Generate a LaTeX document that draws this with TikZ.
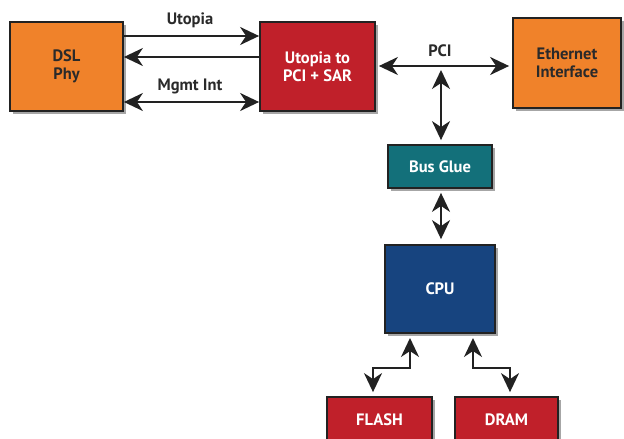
\documentclass[tikz,border=0pt]{standalone}
\usepackage{fontspec}
\setmainfont{PT Sans}
\usetikzlibrary{arrows.meta,shadows}
\definecolor{boxorange}{HTML}{F0822A}
\definecolor{boxred}{HTML}{C0202A}
\definecolor{boxteal}{HTML}{13707A}
\definecolor{boxblue}{HTML}{17447F}
\definecolor{edge}{HTML}{222222}
\definecolor{txt}{HTML}{2A2A2A}
\begin{document}
\begin{tikzpicture}[x=1pt,y=-1pt,
  blk/.style={draw=edge,line width=1.8pt,inner sep=0pt,align=center,
    font=\bfseries\fontsize{16.5}{18}\selectfont,
    drop shadow={shadow xshift=3pt,shadow yshift=-3pt,fill=black!35,opacity=1}},
  lab/.style={font=\bfseries\fontsize{16.5}{18}\selectfont,text=txt,inner sep=0pt},
  arr/.style={draw=edge,line width=2pt,-{Stealth[length=19pt,width=18pt,inset=6pt]}},
  darr/.style={draw=edge,line width=2pt,{Stealth[length=19pt,width=18pt,inset=6pt]}-{Stealth[length=19pt,width=18pt,inset=6pt]}}]
\useasboundingbox[fill=white] (0,0) rectangle (624,439);
\node[blk,fill=boxorange,text=txt,minimum width=113pt,minimum height=89pt] (dsl) at (66.5,66.5) {DSL\\Phy};
\node[blk,fill=boxred,text=white,minimum width=115pt,minimum height=89pt] (ut) at (317.5,66.5) {Utopia to\\PCI + SAR};
\node[blk,fill=boxorange,text=txt,minimum width=108pt,minimum height=90pt] (eth) at (567,63) {Ethernet\\Interface};
\node[blk,fill=boxteal,text=white,minimum width=104pt,minimum height=43pt] (bg) at (440,166.5) {Bus Glue};
\node[blk,fill=boxblue,text=white,minimum width=110pt,minimum height=88pt] (cpu) at (440,289) {CPU};
\node[blk,fill=boxred,text=white,minimum width=105pt,minimum height=46pt] (flash) at (379.5,420) {FLASH};
\node[blk,fill=boxred,text=white,minimum width=103pt,minimum height=46pt] (dram) at (506.5,420) {DRAM};
% DSL <-> Utopia
\coordinate (a1) at (dsl.east |- 0,36);
\coordinate (a2) at (dsl.east |- 0,57);
\coordinate (a3) at (dsl.east |- 0,102);
\draw[arr] (a1) -- (a1 -| ut.west);
\draw[arr] (a2 -| ut.west) -- (a2);
\draw[darr] (a3) -- (a3 -| ut.west);
\node[lab] (lut) at (190,20) {Utopia};
\node[lab] (lmg) at (190,86) {Mgmt Int};
% PCI bus
\coordinate (p1) at (ut.east |- 0,66);
\draw[darr] ([xshift=3pt]p1) -- ([xshift=-3pt]p1 -| eth.west);
\node[lab] (lpci) at (440,51) {PCI};
\coordinate (pj) at (441,70);
\draw[darr] (pj) -- ([yshift=4pt]pj |- bg.north);
\draw[darr] ([yshift=-4pt]pj |- bg.south) -- ([yshift=5pt]pj |- cpu.north);
% CPU to memories
\coordinate (f1) at (410,338);
\coordinate (d1) at (473,338);
\draw[darr] (f1) -- (410,368) -| ([yshift=4pt]373,0 |- flash.north);
\draw[darr] (d1) -- (473,368) -| ([yshift=4pt]510,0 |- dram.north);
\end{tikzpicture}
\end{document}
